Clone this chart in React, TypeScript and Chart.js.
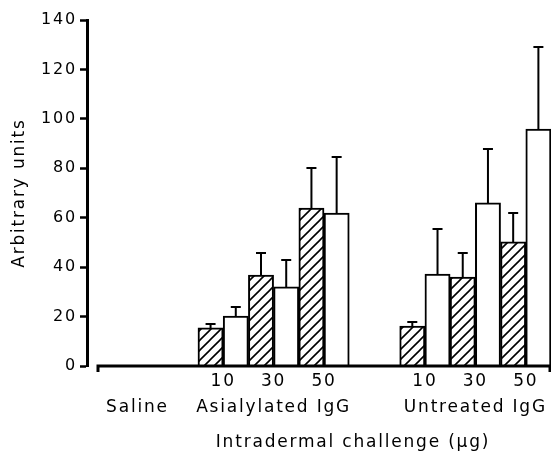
import React, { useEffect, useRef } from 'react';
import { Chart, registerables } from 'chart.js';

Chart.register(...registerables);

// ---- data ----
const groups = ['Saline', 'Asialylated IgG', 'Untreated IgG'];
const doses = ['10', '30', '50'];
// order: Asialylated 10,30,50 then Untreated 10,30,50
const hatchedMeans = [15.4, 36.8, 63.9, 16.2, 36.0, 50.2];
const hatchedErrors = [1.6, 8.9, 16.2, 1.6, 9.7, 11.7];
const openMeans = [20.2, 32.0, 61.9, 37.2, 66.0, 95.9];
const openErrors = [3.7, 10.9, 22.7, 18.2, 21.8, 33.2];
const yTicks = [0, 20, 40, 60, 80, 100, 120, 140];
const yTitle = 'Arbitrary units';
const xTitle = 'Intradermal challenge (\u03bcg)';

const FONT = "'DejaVu Sans', sans-serif";
const SPACING = '1.8px';

// slot layout (in "pair" units): Saline has no bars
const salineSlot = -1.7;
const treatedGroupStart = [0, 4];
const pairSlots: number[] = [];
treatedGroupStart.forEach((s) => doses.forEach((_, d) => pairSlots.push(s + d)));

const tickValues = [salineSlot, ...pairSlots];
const tickLabels: string[][] = [
  ['', groups[0]],
  ...treatedGroupStart.flatMap((_, g) =>
    doses.map((d, i) => [d, i === 1 ? groups[g + 1] : ''])
  ),
];

function makeHatch(): CanvasPattern | string {
  const c = document.createElement('canvas');
  const s = 10;
  c.width = s;
  c.height = s;
  const ctx = c.getContext('2d');
  if (!ctx) return '#fff';
  ctx.fillStyle = '#fff';
  ctx.fillRect(0, 0, s, s);
  ctx.strokeStyle = '#000';
  ctx.lineWidth = 1.6;
  ctx.beginPath();
  ctx.moveTo(0, s);
  ctx.lineTo(s, 0);
  ctx.moveTo(-2, 2);
  ctx.lineTo(2, -2);
  ctx.moveTo(s - 2, s + 2);
  ctx.lineTo(s + 2, s - 2);
  ctx.stroke();
  return ctx.createPattern(c, 'repeat') || '#fff';
}

const spacingPlugin = {
  id: 'letterSpacing',
  beforeLayout(chart: any) {
    chart.ctx.letterSpacing = SPACING;
  },
  beforeDraw(chart: any) {
    chart.ctx.letterSpacing = SPACING;
  },
};

const errorBarPlugin = {
  id: 'errorBars',
  afterDatasetsDraw(chart: any) {
    const ctx = chart.ctx;
    const yScale = chart.scales.y;
    const errs = [hatchedErrors, openErrors];
    const means = [hatchedMeans, openMeans];
    ctx.save();
    ctx.strokeStyle = '#000';
    ctx.lineWidth = 2;
    errs.forEach((e, di) => {
      const meta = chart.getDatasetMeta(di);
      meta.data.forEach((el: any, i: number) => {
        const top = yScale.getPixelForValue(means[di][i] + e[i]);
        ctx.beginPath();
        ctx.moveTo(el.x, el.y);
        ctx.lineTo(el.x, top);
        ctx.moveTo(el.x - 5, top);
        ctx.lineTo(el.x + 5, top);
        ctx.stroke();
      });
    });
    ctx.restore();
  },
};

const axisDecorPlugin = {
  id: 'axisDecor',
  afterDraw(chart: any) {
    const { ctx, chartArea } = chart;
    const y = chartArea.bottom;
    const x0 = chartArea.left + 11;
    const x1 = chartArea.right - 1;
    ctx.save();
    ctx.strokeStyle = '#000';
    ctx.lineWidth = 3;
    ctx.beginPath();
    ctx.moveTo(x0, y + 6);
    ctx.lineTo(x0, y);
    ctx.lineTo(x1, y);
    ctx.lineTo(x1, y + 6);
    ctx.stroke();
    // x axis title
    ctx.fillStyle = '#000';
    ctx.font = `17px ${FONT}`;
    ctx.letterSpacing = SPACING;
    ctx.textAlign = 'center';
    ctx.textBaseline = 'middle';
    ctx.fillText(xTitle, (chartArea.left + chartArea.right) / 2 + 34, chartArea.bottom + 77);
    ctx.restore();
  },
};

export default function App() {
  const ref = useRef<HTMLCanvasElement>(null);

  useEffect(() => {
    if (!ref.current) return;
    const hatch = makeHatch();
    Chart.defaults.font.family = FONT;
    Chart.defaults.color = '#000';
    const chart = new Chart(ref.current, {
      type: 'bar',
      data: {
        datasets: [
          {
            label: 'hatched',
            data: pairSlots.map((x, i) => ({ x, y: hatchedMeans[i] })),
            backgroundColor: hatch as any,
            borderColor: '#000',
            borderWidth: 2,
          },
          {
            label: 'open',
            data: pairSlots.map((x, i) => ({ x, y: openMeans[i] })),
            backgroundColor: '#fff',
            borderColor: '#000',
            borderWidth: 2,
          },
        ],
      },
      options: {
        animation: false,
        responsive: false,
        devicePixelRatio: 1,
        layout: { padding: { top: 20, left: 0, right: 0, bottom: 0 } },
        datasets: { bar: { categoryPercentage: 1, barPercentage: 1 } },
        plugins: {
          legend: { display: false },
          tooltip: { enabled: false },
        },
        scales: {
          x: {
            type: 'linear',
            offset: false,
            min: -2.7,
            max: 6.5,
            afterBuildTicks: (s: any) => {
              s.ticks = tickValues.map((v) => ({ value: v }));
            },
            afterFit: (s: any) => {
              s.height = 88;
            },
            grid: { display: false, drawTicks: false, offset: false },
            border: { display: false },
            ticks: {
              autoSkip: false,
              maxRotation: 0,
              minRotation: 0,
              padding: 3,
              color: '#000',
              font: { family: FONT, size: 17, lineHeight: '26px' },
              callback: (_v: any, i: number) => tickLabels[i],
            },
          },
          y: {
            min: 0,
            max: 140,
            afterBuildTicks: (s: any) => {
              s.ticks = yTicks.map((v) => ({ value: v }));
            },
            afterFit: (s: any) => {
              s.width = 87;
            },
            grid: {
              drawOnChartArea: false,
              drawTicks: true,
              tickLength: 7,
              tickWidth: 2.5,
              tickColor: '#000',
            },
            border: { display: true, color: '#000', width: 3 },
            ticks: {
              padding: 3,
              color: '#000',
              font: { family: FONT, size: 16 },
            },
            title: {
              display: true,
              text: yTitle,
              color: '#000',
              font: { family: FONT, size: 17 },
              padding: { top: 9, bottom: 0 },
            },
          },
        },
      },
      plugins: [spacingPlugin, errorBarPlugin, axisDecorPlugin],
    } as any);
    return () => chart.destroy();
  }, []);

  return (
    <div style={{ position: 'absolute', left: 0, top: 0, width: 551, height: 454, background: '#fff' }}>
      <canvas ref={ref} width={551} height={454} style={{ width: 551, height: 454, display: 'block' }} />
    </div>
  );
}
